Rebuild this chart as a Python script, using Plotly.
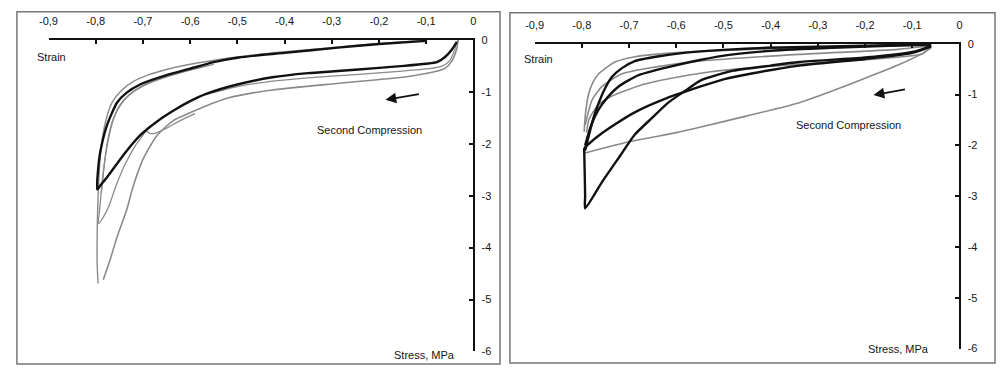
import plotly.graph_objects as go

# ---------------- data: left panel (strain, stress MPa) ----------------
L_black_strain = [-0.10, -0.20, -0.287, -0.40, -0.497, -0.55, -0.602, -0.65, -0.706, -0.735, -0.755, -0.776, -0.79, -0.795, -0.797,
                  -0.79, -0.774, -0.74, -0.705, -0.67, -0.635, -0.60, -0.566, -0.50, -0.426, -0.35, -0.287, -0.20, -0.147, -0.10, -0.077, -0.06, -0.045, -0.035]
L_black_stress = [-0.02, -0.08, -0.15, -0.25, -0.34, -0.43, -0.56, -0.68, -0.86, -1.02, -1.21, -1.64, -2.14, -2.5, -2.88,
                  -2.8, -2.62, -2.2, -1.83, -1.57, -1.36, -1.18, -1.04, -0.86, -0.72, -0.64, -0.60, -0.54, -0.50, -0.46, -0.43, -0.33, -0.18, -0.04]

L_gray_outer_strain = [-0.10, -0.20, -0.30, -0.40, -0.50, -0.60, -0.65, -0.69, -0.72, -0.745, -0.765, -0.777, -0.786, -0.791, -0.794, -0.796, -0.797, -0.797, -0.795]
L_gray_outer_stress = [-0.01, -0.07, -0.15, -0.23, -0.33, -0.47, -0.57, -0.68, -0.80, -0.97, -1.20, -1.50, -1.90, -2.30, -2.80, -3.30, -3.80, -4.30, -4.69]

L_gray_branch_strain = [-0.60, -0.65, -0.70, -0.73, -0.75, -0.765, -0.777, -0.786, -0.791, -0.794, -0.783, -0.772, -0.757, -0.737, -0.715, -0.702, -0.697, -0.692, -0.686, -0.675, -0.65, -0.62, -0.59]
L_gray_branch_stress = [-0.58, -0.71, -0.88, -1.06, -1.27, -1.60, -2.10, -2.70, -3.20, -3.54, -3.40, -3.20, -2.81, -2.38, -2.02, -1.86, -1.79, -1.76, -1.80, -1.80, -1.70, -1.55, -1.42]

L_gray_inner_strain = [-0.55, -0.62, -0.68, -0.72, -0.745, -0.762, -0.775, -0.783, -0.788]
L_gray_inner_stress = [-0.47, -0.63, -0.81, -1.00, -1.22, -1.50, -1.95, -2.50, -2.95]

L_gray_lower_strain = [-0.032, -0.036, -0.045, -0.06, -0.085, -0.15, -0.29, -0.43, -0.52, -0.587, -0.635, -0.671, -0.70, -0.72, -0.734, -0.755, -0.77, -0.784]
L_gray_lower_stress = [0.0, -0.20, -0.40, -0.55, -0.62, -0.72, -0.84, -0.97, -1.12, -1.35, -1.55, -1.85, -2.30, -2.80, -3.26, -3.80, -4.25, -4.62]

L_gray_mid_strain = [-0.033, -0.04, -0.05, -0.065, -0.09, -0.15, -0.25, -0.35, -0.43, -0.50, -0.57]
L_gray_mid_stress = [0.0, -0.20, -0.40, -0.50, -0.55, -0.60, -0.67, -0.73, -0.80, -0.90, -1.06]

# ---------------- data: right panel ----------------
R_black1_strain = [-0.06, -0.20, -0.30, -0.408, -0.50, -0.584, -0.64, -0.688, -0.715, -0.736, -0.752, -0.764, -0.775, -0.785, -0.793]
R_black1_stress = [-0.01, -0.04, -0.06, -0.08, -0.12, -0.18, -0.25, -0.34, -0.48, -0.65, -0.90, -1.16, -1.45, -1.80, -2.10]

R_black2_strain = [-0.06, -0.15, -0.27, -0.40, -0.479, -0.55, -0.617, -0.68, -0.722, -0.745, -0.765, -0.78, -0.793]
R_black2_stress = [-0.02, -0.04, -0.08, -0.14, -0.21, -0.32, -0.46, -0.62, -0.84, -1.05, -1.30, -1.60, -2.00]

R_black3_strain = [-0.06, -0.10, -0.20, -0.339, -0.443, -0.50, -0.548, -0.62, -0.688, -0.74, -0.77, -0.795]
R_black3_stress = [-0.05, -0.18, -0.30, -0.43, -0.59, -0.70, -0.84, -1.07, -1.35, -1.65, -1.85, -2.05]

R_black4_strain = [-0.795, -0.794, -0.793, -0.793, -0.757, -0.72, -0.688, -0.65, -0.617, -0.58, -0.548, -0.479, -0.40, -0.339, -0.20, -0.094, -0.06]
R_black4_stress = [-2.05, -2.50, -3.00, -3.24, -2.72, -2.22, -1.79, -1.45, -1.16, -0.92, -0.72, -0.53, -0.43, -0.36, -0.27, -0.15, -0.04]

R_gray1_strain = [-0.795, -0.792, -0.785, -0.776, -0.764, -0.73, -0.69, -0.646, -0.548, -0.40, -0.20, -0.06]
R_gray1_stress = [-1.73, -1.35, -0.97, -0.75, -0.59, -0.36, -0.26, -0.21, -0.15, -0.10, -0.05, -0.01]

R_gray2_strain = [-0.793, -0.778, -0.757, -0.715, -0.646, -0.548, -0.34, -0.13, -0.06]
R_gray2_stress = [-1.60, -1.10, -0.84, -0.59, -0.46, -0.34, -0.21, -0.11, -0.04]

R_gray3_strain = [-0.79, -0.785, -0.765, -0.736, -0.68, -0.632, -0.527, -0.423, -0.30, -0.15, -0.08, -0.06]
R_gray3_stress = [-1.75, -1.49, -1.20, -1.03, -0.83, -0.72, -0.55, -0.46, -0.38, -0.28, -0.20, -0.06]

R_gray4_strain = [-0.793, -0.70, -0.60, -0.548, -0.45, -0.339, -0.27, -0.20, -0.13, -0.082, -0.06]
R_gray4_stress = [-2.15, -1.93, -1.75, -1.64, -1.42, -1.16, -0.93, -0.68, -0.42, -0.21, -0.08]

x_tick_vals = [-0.9, -0.8, -0.7, -0.6, -0.5, -0.4, -0.3, -0.2, -0.1, 0]
x_tick_text = ["-0,9", "-0,8", "-0,7", "-0,6", "-0,5", "-0,4", "-0,3", "-0,2", "-0,1", "0"]
y_tick_vals = [0, -1, -2, -3, -4, -5, -6]
y_tick_text = ["0", "-1", "-2", "-3", "-4", "-5", "-6"]

BLACK = "#111111"
GRAY = "#8a8a8a"
TEXT = "#151515"
FONT = "Liberation Sans"

fig = go.Figure()

def add(xs, ys, color, width, xa, ya):
    fig.add_trace(go.Scatter(x=xs, y=ys, mode="lines", line=dict(color=color, width=width, shape="spline", smoothing=0.6),
                             xaxis=xa, yaxis=ya, showlegend=False, hoverinfo="skip"))

# left
add(L_gray_outer_strain, L_gray_outer_stress, GRAY, 1.4, "x", "y")
add(L_gray_branch_strain, L_gray_branch_stress, GRAY, 1.3, "x", "y")
add(L_gray_inner_strain, L_gray_inner_stress, GRAY, 1.3, "x", "y")
add(L_gray_lower_strain, L_gray_lower_stress, GRAY, 1.6, "x", "y")
add(L_gray_mid_strain, L_gray_mid_stress, GRAY, 1.2, "x", "y")
add(L_black_strain, L_black_stress, BLACK, 2.4, "x", "y")
# right
add(R_gray1_strain, R_gray1_stress, GRAY, 1.6, "x2", "y2")
add(R_gray2_strain, R_gray2_stress, GRAY, 1.6, "x2", "y2")
add(R_gray3_strain, R_gray3_stress, GRAY, 1.6, "x2", "y2")
add(R_gray4_strain, R_gray4_stress, GRAY, 1.6, "x2", "y2")
add(R_black1_strain, R_black1_stress, BLACK, 2.4, "x2", "y2")
add(R_black2_strain, R_black2_stress, BLACK, 2.4, "x2", "y2")
add(R_black3_strain, R_black3_stress, BLACK, 2.4, "x2", "y2")
add(R_black4_strain, R_black4_stress, BLACK, 2.4, "x2", "y2")

W, H = 1000, 372
def px(v): return v / W
def py(v): return 1 - v / H

xcommon = dict(range=[-0.9, 0], side="top", tickvals=x_tick_vals, ticktext=x_tick_text, ticks="inside", ticklen=4,
               tickwidth=1.5, tickcolor="#111", showline=True, linecolor="#111", linewidth=2, showgrid=False,
               zeroline=False, tickfont=dict(family=FONT, size=11, color=TEXT), fixedrange=True,
               ticklabelstandoff=8)
ycommon = dict(range=[-6, 0], side="right", tickvals=y_tick_vals, ticktext=y_tick_text, ticks="inside", ticklen=4,
               tickwidth=1.5, tickcolor="#111", showline=True, linecolor="#111", linewidth=2, showgrid=False,
               zeroline=False, tickfont=dict(family=FONT, size=11, color=TEXT), fixedrange=True,
               ticklabelstandoff=4)

fig.update_layout(
    width=W, height=H, margin=dict(l=0, r=0, t=0, b=0),
    paper_bgcolor="white", plot_bgcolor="rgba(0,0,0,0)",
    xaxis=dict(domain=[px(40), px(470)], anchor="y", **xcommon),
    yaxis=dict(domain=[py(357), py(35)], anchor="x", **ycommon),
    xaxis2=dict(domain=[px(532), px(962)], anchor="y2", **xcommon),
    yaxis2=dict(domain=[py(354), py(39)], anchor="x2", **ycommon),
    shapes=[
        dict(type="rect", xref="paper", yref="paper", x0=px(8), x1=px(497), y0=py(370), y1=py(6),
             line=dict(color="#777", width=1.5)),
        dict(type="rect", xref="paper", yref="paper", x0=px(507), x1=px(998), y0=py(369), y1=py(7),
             line=dict(color="#777", width=1.5)),
    ],
)

ann = []
def text(x, y, s, anchor="center"):
    ann.append(dict(x=px(x), y=py(y), xref="paper", yref="paper", text=s, showarrow=False, xanchor=anchor,
                    yanchor="middle", font=dict(family=FONT, size=11, color=TEXT)))
text(26, 53, "Strain", "left")
text(519, 55, "Strain", "left")
text(453, 361, "Stress, MPa", "right")
text(933, 354, "Stress, MPa", "right")
text(365, 128, "Second Compression")
text(850, 123, "Second Compression")
for hx, hy, tx, ty in [(381, 97, 416, 91), (875, 92, 908, 86)]:
    ann.append(dict(x=px(hx), y=py(hy), xref="paper", yref="paper", ax=tx - hx, ay=ty - hy, axref="pixel", ayref="pixel",
                    text="", showarrow=True, arrowhead=2, arrowsize=1.2, arrowwidth=1.8, arrowcolor="#111"))
fig.update_layout(annotations=ann)

fig.write_html("out.html", config={"displayModeBar": False},
               post_script="document.body.style.margin='0';document.body.style.overflow='hidden';")
